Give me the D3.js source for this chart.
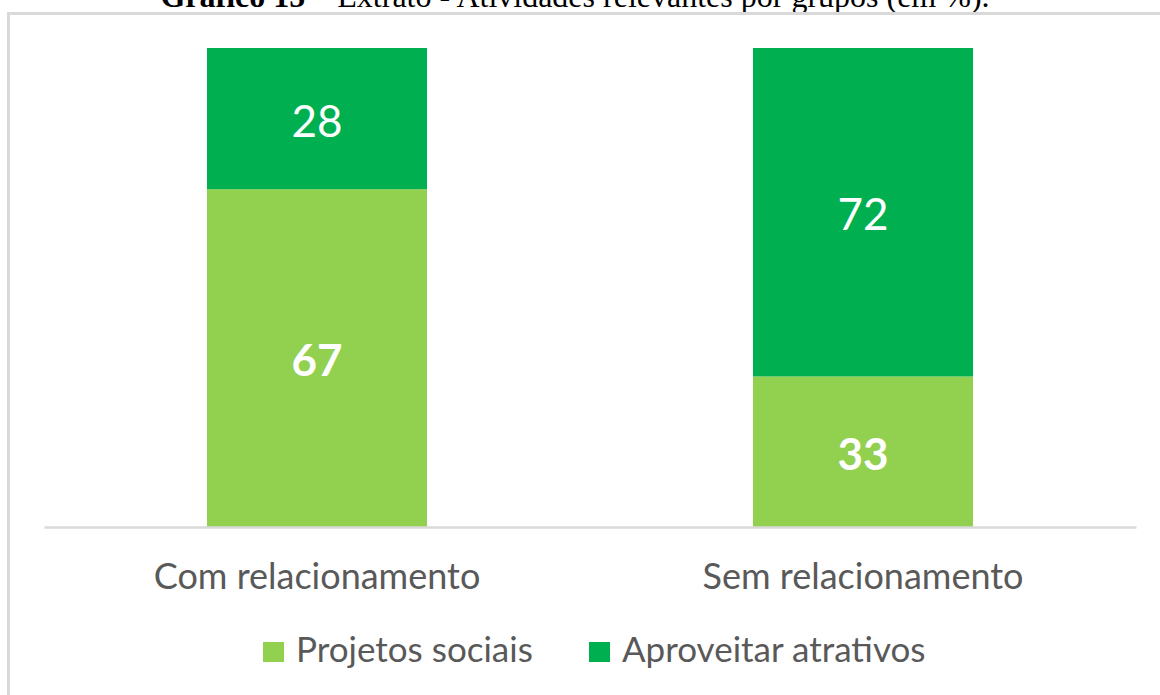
<!DOCTYPE html>
<html>
<head>
<meta charset="utf-8">
<script src="https://cdn.jsdelivr.net/npm/d3@7"></script>
<style>
  body { margin: 0; background: #fff; }
  svg { display: block; }
</style>
</head>
<body>
<svg width="1160" height="695"></svg>
<script>
var categories = ['Com relacionamento', 'Sem relacionamento'];
var seriesNames = ['Projetos sociais', 'Aproveitar atrativos'];
var projetos = [67, 33];
var aproveitar = [28, 72];
var colors = ['#92D050', '#00B050'];

function drawChart() {
    var svg = d3.select('svg');

    // title (cut off at the top in the original)
    var title = svg.append('text')
        .attr('x', 575)
        .attr('y', 7)
        .attr('text-anchor', 'middle')
        .style('font-family', '"Liberation Serif", "Times New Roman", serif')
        .style('font-size', '32px')
        .attr('fill', '#000');
    title.append('tspan').style('font-weight', 'bold').text('Gráfico 15');
    title.append('tspan').text(' – Extrato - Atividades relevantes por grupos (em %).');

    // chart frame
    svg.append('rect')
        .attr('x', 8.5)
        .attr('y', 13.5)
        .attr('width', 1170)
        .attr('height', 700)
        .attr('fill', 'none')
        .attr('stroke', '#d9d9d9')
        .attr('stroke-width', 3);

    var rows = categories.map((c, i) => ({cat: c, p: projetos[i], a: aproveitar[i]}));
    var stack = d3.stack()
        .keys(['p', 'a'])
        .offset(d3.stackOffsetExpand);
    var layers = stack(rows);

    var x = d3.scaleBand()
        .domain(categories)
        .range([44, 1136])
        .paddingInner(0.597)
        .paddingOuter(0.2985);
    var y = d3.scaleLinear()
        .domain([0, 1])
        .range([527, 48]);

    var g = svg.selectAll('g.layer')
        .data(layers)
        .enter().append('g')
        .attr('class', 'layer')
        .attr('fill', (d, i) => colors[i]);

    g.selectAll('rect')
        .data(d => d)
        .enter().append('rect')
        .attr('x', d => x(d.data.cat))
        .attr('width', x.bandwidth())
        .attr('y', d => y(d[1]))
        .attr('height', d => y(d[0]) - y(d[1]));

    g.selectAll('text')
        .data((d, i) => d.map(s => ({s: s, key: d.key, idx: i})))
        .enter().append('text')
        .attr('x', d => x(d.s.data.cat) + x.bandwidth() / 2)
        .attr('y', d => (y(d.s[0]) + y(d.s[1])) / 2 + 18)
        .attr('text-anchor', 'middle')
        .attr('fill', '#fff')
        .style('font-family', 'Lato, "Open Sans", sans-serif')
        .style('font-size', '44px')
        .style('font-weight', d => d.idx === 0 ? 'bold' : 'normal')
        .text(d => d.s.data[d.key]);

    // x axis
    var axis = svg.append('g')
        .attr('transform', 'translate(0,527)')
        .call(d3.axisBottom(x).tickSize(0).tickPadding(40));
    axis.select('.domain')
        .attr('stroke', '#d9d9d9')
        .attr('stroke-width', 2.5);
    axis.selectAll('text')
        .attr('fill', '#595959')
        .attr('dy', 0)
        .attr('y', 62)
        .style('font-family', 'Lato, "Open Sans", sans-serif')
        .style('font-size', '36px');

    // legend
    var legendX = [263, 589];
    var legend = svg.selectAll('g.legend')
        .data(seriesNames)
        .enter().append('g')
        .attr('class', 'legend')
        .attr('transform', (d, i) => 'translate(' + legendX[i] + ',642)');
    legend.append('rect')
        .attr('width', 21)
        .attr('height', 20)
        .attr('fill', (d, i) => colors[i]);
    legend.append('text')
        .attr('x', 33)
        .attr('y', 20)
        .attr('fill', '#595959')
        .style('font-family', 'Lato, "Open Sans", sans-serif')
        .style('font-size', '35px')
        .text(d => d);
}
drawChart();
</script>
</body>
</html>
